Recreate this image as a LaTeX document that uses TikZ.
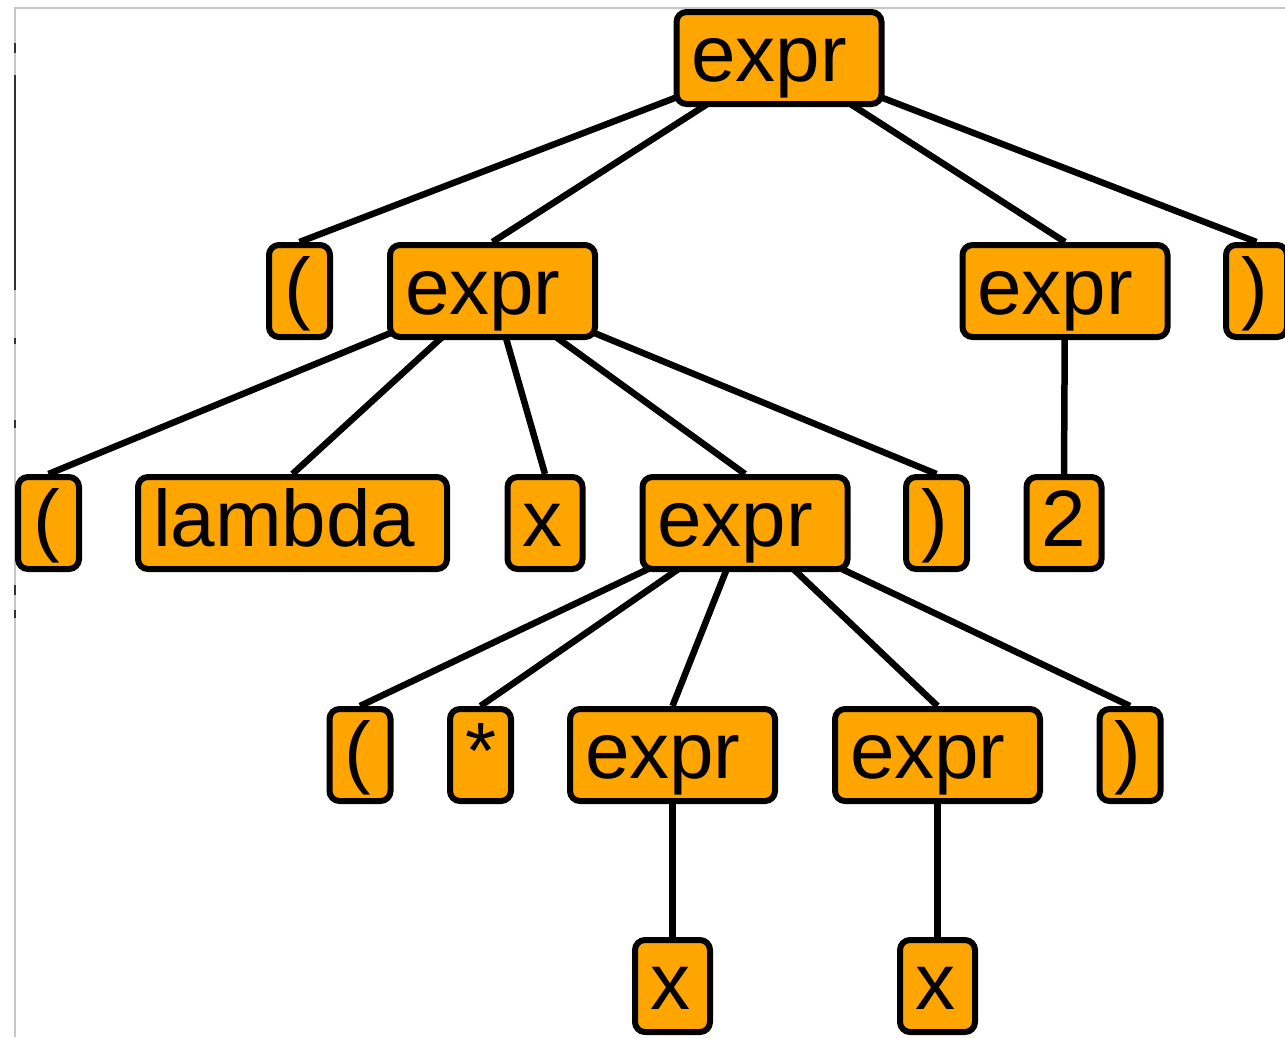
\documentclass[tikz,border=0pt]{standalone}
\usepackage{fontspec}
\setmainfont{Liberation Sans}
\usetikzlibrary{backgrounds}

\definecolor{tokfill}{RGB}{255,165,0}
\newcommand\tokfont{\fontsize{80}{96}\selectfont}

\tikzset{
  tok/.style={draw=black, line width=6pt, fill=tokfill, rounded corners=10pt,
    minimum height=92pt, inner xsep=15pt, inner ysep=0pt,
    text height=60pt, text depth=13pt, align=left, font=\tokfont},
  wexpr/.style={tok, text width=175pt},
  wnarrow/.style={tok, text width=31pt},
  wmid/.style={tok, text width=45pt},
  wlong/.style={tok, text width=279pt},
  edge/.style={draw=black, line width=6.5pt},
  winframe/.style={draw=black!22, line width=2pt},
  winmark/.style={draw=black!80, line width=2.5pt}
}

\begin{document}
\begin{tikzpicture}[x=1pt,y=-1pt]
\useasboundingbox (0,0) rectangle (1285,1037);

% root
\node[wexpr] (root) at (779,58) {expr};

% level 1
\node[wnarrow] (p1) at (299.5,291) {(};
\node[wexpr]   (e1) at (492.5,291) {expr};
\node[wexpr]   (e2) at (1065,291)  {expr};
\node[wnarrow] (p2) at (1256.5,291) {)};

% level 2
\node[wnarrow] (a1)  at (48.5,523)  {(};
\node[wlong]   (lam) at (292.5,523) {lambda};
\node[wmid]    (xv)  at (545,523)   {x};
\node[wexpr]   (e3)  at (745,523)   {expr};
\node[wnarrow] (a2)  at (936.5,523) {)};
\node[wmid]    (two) at (1064,523)  {2};

% level 3
\node[wnarrow] (b1)   at (360,755)    {(};
\node[wnarrow] (star) at (480.5,755)  {*};
\node[wexpr]   (e4)   at (672.5,755)  {expr};
\node[wexpr]   (e5)   at (937.5,755)  {expr};
\node[wnarrow] (b2)   at (1130,755)   {)};

% level 4
\node[wmid] (x1) at (672.5,986) {x};
\node[wmid] (x2) at (937.5,986) {x};

\begin{scope}[on background layer]
  \fill[white] (0,0) rectangle (1285,1037);
  % window edge
  \draw[winframe] (15,1037) -- (15,8) -- (1285,8);
  \draw[winmark] (15,75) -- (15,290);
  \foreach \ya/\yb in {43/53, 338/344, 420/428, 585/595, 610/618}
    \draw[winmark] (15,\ya) -- (15,\yb);

  % tree edges
  \foreach \c in {p1,e1,e2,p2}
    \draw[edge] (root.center) -- (\c.north);
  \foreach \c in {a1,lam,xv,e3,a2}
    \draw[edge] (e1.center) -- (\c.north);
  \draw[edge] (e2.center) -- (two.north);
  \foreach \c in {b1,star,e4,e5,b2}
    \draw[edge] (e3.center) -- (\c.north);
  \draw[edge] (e4.center) -- (x1.north);
  \draw[edge] (e5.center) -- (x2.north);
\end{scope}
\end{tikzpicture}
\end{document}
